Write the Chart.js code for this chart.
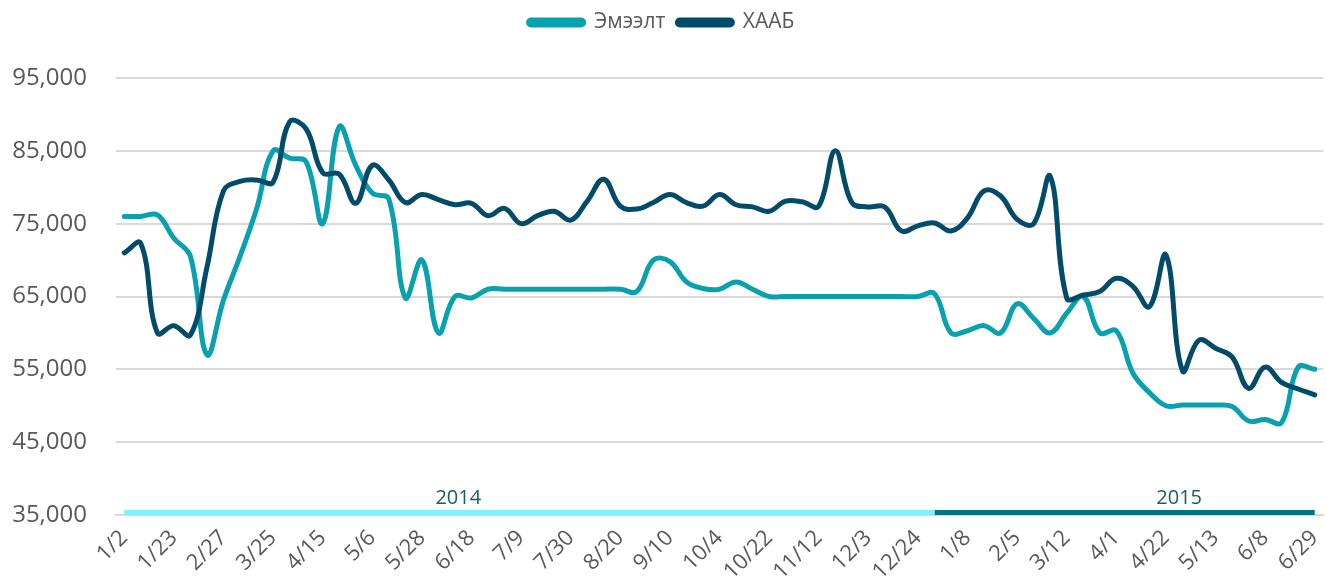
<!DOCTYPE html>
<html lang="mn">
<head>
  <meta charset="UTF-8">
  <title>Эмээлт ба ХААБ</title>
  <script src="https://cdn.jsdelivr.net/npm/chart.js"></script>
  <style>
    html, body { margin: 0; padding: 0; background: #fff; }
  </style>
</head>
<body>
  <canvas id="priceChart" width="1327" height="586"></canvas>

  <script>
    // x-axis labels, one for every third weekly point
    const tickLabels = ['1/2', '1/23', '2/27', '3/25', '4/15', '5/6', '5/28', '6/18', '7/9', '7/30', '8/20', '9/10', '10/4',
      '10/22', '11/12', '12/3', '12/24', '1/8', '2/5', '3/12', '4/1', '4/22', '5/13', '6/8', '6/29'];

    const emeelt = [76000, 76000, 76200, 73000, 70500, 57000, 64500, 70500, 77000, 85000,
      84000, 83500, 75000, 88300, 83000, 79200, 78400, 64800, 70000, 60000,
      65000, 64800, 66000, 66000, 66000, 66000, 66000, 66000, 66000, 66000,
      66000, 65700, 70000, 69800, 67000, 66100, 66000, 67000, 66000, 65000,
      65000, 65000, 65000, 65000, 65000, 65000, 65000, 65000, 65000, 65400,
      60000, 60300, 61000, 60000, 64000, 62000, 60000, 62700, 65000, 60000,
      60300, 54500, 51800, 50000, 50100, 50100, 50100, 49900, 47900, 48100,
      47700, 55300, 55000];

    const haab = [71000, 72300, 60000, 61000, 59700, 69000, 79500, 80800, 81000, 80700,
      89000, 88000, 82000, 81800, 77800, 83000, 81000, 77900, 79000, 78300,
      77600, 77800, 76100, 77100, 75000, 76100, 76700, 75500, 78100, 81100,
      77400, 77000, 77900, 79000, 77900, 77400, 79000, 77600, 77300, 76700,
      78100, 78000, 77400, 85000, 77900, 77300, 77300, 74000, 74700, 75100,
      74000, 75800, 79500, 78800, 75600, 75000, 81500, 64800, 65200, 65700,
      67500, 66400, 63600, 70700, 54800, 59000, 57900, 56700, 52400, 55300,
      53200, 52300, 51500];

    // year band under the lines
    const years = ['2014', '2015'];
    const yearFrom = [0, 49];
    const yearTo = [49, 72];
    const yearTextAt = [20.2, 63.8];

    const labels = emeelt.map((_, i) => (i % 3 === 0 ? tickLabels[i / 3] : ''));
    const bandData = (from, to) => labels.map((_, i) => (i >= from && i <= to ? 35000 : null));

    const font = '"Open Sans", "Noto Sans", sans-serif';
    const grey = '#595959';

    // push the plot down below the legend, like the original
    const legendGap = {
      id: 'legendGap',
      beforeInit(chart) {
        const fit = chart.legend.fit;
        chart.legend.fit = function () {
          fit.bind(chart.legend)();
          this.height += 35;
        };
      }
    };

    const yearText = {
      id: 'yearText',
      afterDatasetsDraw(chart) {
        const { ctx, scales: { x, y } } = chart;
        ctx.save();
        ctx.font = '20px ' + font;
        ctx.fillStyle = '#1b5c66';
        ctx.textAlign = 'center';
        ctx.textBaseline = 'alphabetic';
        years.forEach((yr, k) => {
          ctx.fillText(yr, x.getPixelForValue(yearTextAt[k]), y.getPixelForValue(35000) - 11);
        });
        ctx.restore();
      }
    };

    new Chart(document.getElementById('priceChart'), {
      type: 'line',
      data: {
        labels: labels,
        datasets: [
          {
            label: 'Эмээлт',
            data: emeelt,
            borderColor: '#0aa1ae',
            backgroundColor: '#0aa1ae',
            borderWidth: 5,
            tension: 0.4,
            pointRadius: 0,
            borderCapStyle: 'round',
            borderJoinStyle: 'round',
            order: 2
          },
          {
            label: 'ХААБ',
            data: haab,
            borderColor: '#034c69',
            backgroundColor: '#034c69',
            borderWidth: 5,
            tension: 0.4,
            pointRadius: 0,
            borderCapStyle: 'round',
            borderJoinStyle: 'round',
            order: 1
          },
          {
            label: years[0],
            data: bandData(yearFrom[0], yearTo[0]),
            borderColor: '#7ff0f8',
            borderWidth: 10,
            borderCapStyle: 'butt',
            pointRadius: 0,
            tension: 0,
            order: 3
          },
          {
            label: years[1],
            data: bandData(yearFrom[1], yearTo[1]),
            borderColor: '#05737d',
            borderWidth: 10,
            borderCapStyle: 'butt',
            pointRadius: 0,
            tension: 0,
            order: 3
          }
        ]
      },
      options: {
        responsive: false,
        animation: false,
        devicePixelRatio: 1,
        layout: { padding: { top: 0, right: 4, left: 0, bottom: 0 } },
        plugins: {
          tooltip: { enabled: false },
          legend: {
            position: 'top',
            align: 'center',
            labels: {
              filter: item => item.datasetIndex < 2,
              sort: (a, b) => a.datasetIndex - b.datasetIndex,
              font: { family: font, size: 21 },
              color: grey,
              boxWidth: 55,
              boxHeight: 5,
              useBorderRadius: true,
              borderRadius: 2.5,
              padding: 12
            }
          }
        },
        scales: {
          x: {
            offset: true,
            grid: { display: false },
            border: { color: '#d9d9d9', width: 2 },
            ticks: {
              autoSkip: false,
              maxRotation: 45,
              minRotation: 45,
              padding: 2,
              color: grey,
              font: { family: font, size: 22 }
            },
            afterFit: s => {
              s.height = 71;
              s.paddingLeft = 0;
              s.paddingRight = 0;
            }
          },
          y: {
            min: 35000,
            max: 95000,
            border: { display: false },
            grid: { color: '#d9d9d9', lineWidth: 2, drawTicks: false },
            ticks: {
              stepSize: 10000,
              padding: 29,
              color: grey,
              font: { family: font, size: 24 }
            },
            afterFit: s => { s.width = 116; }
          }
        }
      },
      plugins: [legendGap, yearText]
    });
  </script>
</body>
</html>
